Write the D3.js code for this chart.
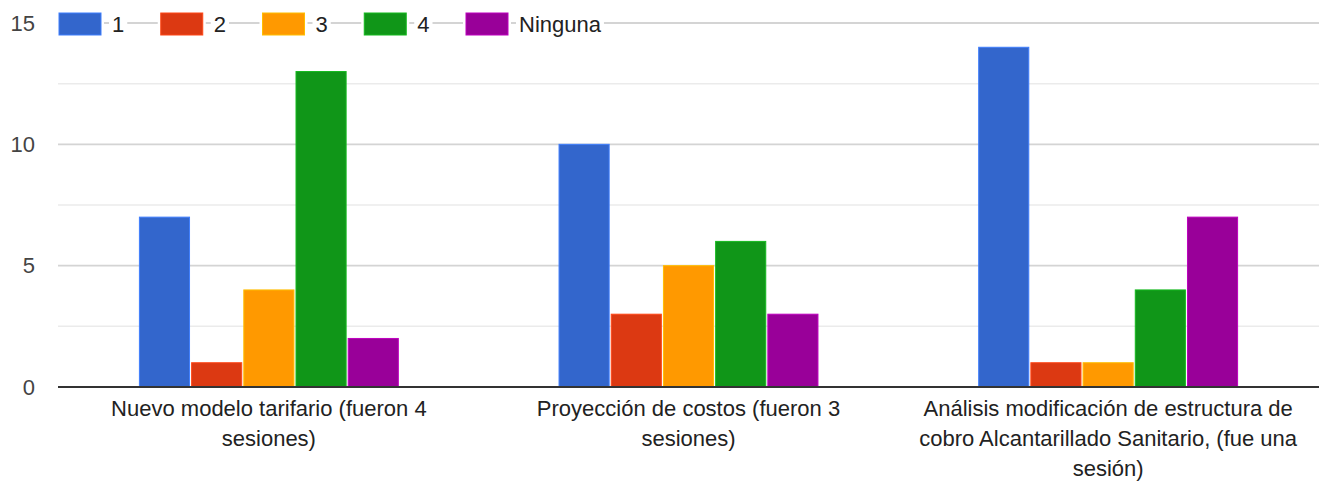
<!DOCTYPE html>
<html>
<head>
<meta charset="utf-8">
<script src="https://cdn.jsdelivr.net/npm/d3@7/dist/d3.min.js"></script>
<style>
  html, body { margin: 0; padding: 0; background: #fff; }
  svg { display: block; font-family: Arial, "Liberation Sans", sans-serif; }
</style>
</head>
<body>
<svg id="chart" width="1319" height="485"></svg>
<script>
const categories = [
  "Nuevo modelo tarifario (fueron 4 sesiones)",
  "Proyección de costos (fueron 3 sesiones)",
  "Análisis modificación de estructura de cobro Alcantarillado Sanitario, (fue una sesión)"
];
const seriesNames = ["1", "2", "3", "4", "Ninguna"];
const seriesColors = ["#3366cc", "#dc3912", "#ff9900", "#109618", "#990099"];
const values1 = [7, 1, 4, 13, 2];
const values2 = [10, 3, 5, 6, 3];
const values3 = [14, 1, 1, 4, 7];
const yTicks = [0, 5, 10, 15];
const yMinorTicks = [2.5, 7.5, 12.5];

const seriesValues = [values1, values2, values3];

const W = 1319, H = 485;
const margin = { left: 58, right: 0, top: 23, bottom: 98 };
const svg = d3.select("#chart");

const y = d3.scaleLinear().domain([0, 15]).range([387, 23]);
const x0 = d3.scaleBand().domain(categories).range([margin.left, W])
  .paddingInner(0.383).paddingOuter(0.194);
const x1 = d3.scaleBand().domain(seriesNames).range([0, x0.bandwidth()]).paddingInner(0.04);
const color = d3.scaleOrdinal().domain(seriesNames).range(seriesColors);

// gridlines
svg.append("g").selectAll("line").data(yMinorTicks).join("line")
  .attr("x1", margin.left).attr("x2", W)
  .attr("y1", d => y(d)).attr("y2", d => y(d))
  .attr("stroke", "#ebebeb").attr("stroke-width", 1.5);
svg.append("g").selectAll("line").data(yTicks.filter(d => d !== 0)).join("line")
  .attr("x1", margin.left).attr("x2", W)
  .attr("y1", d => y(d)).attr("y2", d => y(d))
  .attr("stroke", "#d4d4d4").attr("stroke-width", 1.8);

// y labels
const yAxis = d3.axisLeft(y).tickValues(yTicks).tickSize(0).tickPadding(0);
const yg = svg.append("g").attr("transform", "translate(35,0)").call(yAxis);
yg.select(".domain").remove();
yg.selectAll("text").attr("font-size", 22).attr("fill", "#444")
  .attr("font-family", "Arial, 'Liberation Sans', sans-serif");

// bars
const groups = svg.append("g").selectAll("g").data(categories).join("g")
  .attr("transform", d => `translate(${x0(d)},0)`);
groups.selectAll("rect")
  .data((d, i) => seriesNames.map((s, j) => ({ s, v: seriesValues[i][j] })))
  .join("rect")
  .attr("x", d => x1(d.s))
  .attr("width", x1.bandwidth())
  .attr("y", d => y(d.v))
  .attr("height", d => y(0) - y(d.v))
  .attr("fill", d => color(d.s))
  .attr("stroke", d => d3.color(color(d.s)).brighter(0.6))
  .attr("stroke-width", 1);

// baseline
svg.append("line").attr("x1", margin.left).attr("x2", W)
  .attr("y1", y(0)).attr("y2", y(0))
  .attr("stroke", "#333").attr("stroke-width", 2);

// category labels
const xAxis = d3.axisBottom(x0).tickSize(0).tickPadding(0);
const xg = svg.append("g").attr("transform", `translate(0,${y(0)})`).call(xAxis);
xg.select(".domain").remove();
xg.selectAll("text")
  .attr("font-size", 22).attr("fill", "#222")
  .attr("font-family", "Arial, 'Liberation Sans', sans-serif")
  .attr("dy", null).attr("y", 0)
  .each(function (d) {
    const t = d3.select(this);
    const words = d.split(/\s+/);
    t.text(null);
    let lines = [], line = [];
    const probe = t.append("tspan");
    words.forEach(w => {
      line.push(w);
      probe.text(line.join(" "));
      if (probe.node().getComputedTextLength() > 400 && line.length > 1) {
        line.pop();
        lines.push(line.join(" "));
        line = [w];
      }
    });
    lines.push(line.join(" "));
    probe.remove();
    lines.forEach((l, i) => {
      t.append("tspan").attr("x", 0).attr("y", 29 + i * 30).text(l);
    });
  });

// legend
const legend = svg.append("g");
let lx = 59;
seriesNames.forEach((s, i) => {
  const g = legend.append("g");
  const bg = g.append("rect").attr("fill", "#fff");
  g.append("rect").attr("x", lx).attr("y", 13).attr("width", 42).attr("height", 22)
    .attr("fill", color(s)).attr("stroke", d3.color(color(s)).brighter(0.6)).attr("stroke-width", 1);
  const tx = lx + 53;
  const t = g.append("text").attr("x", tx).attr("y", 32)
    .attr("font-size", 22).attr("fill", "#222").text(s);
  const tw = t.node().getComputedTextLength();
  g.insert("rect", ":first-child").attr("x", lx - 3).attr("y", 10).attr("width", 48).attr("height", 28).attr("fill", "#fff");
  bg.attr("x", tx - 3).attr("y", 10).attr("width", tw + 6).attr("height", 28);
  lx = tx + tw + 36.5;
});
</script>
</body>
</html>
